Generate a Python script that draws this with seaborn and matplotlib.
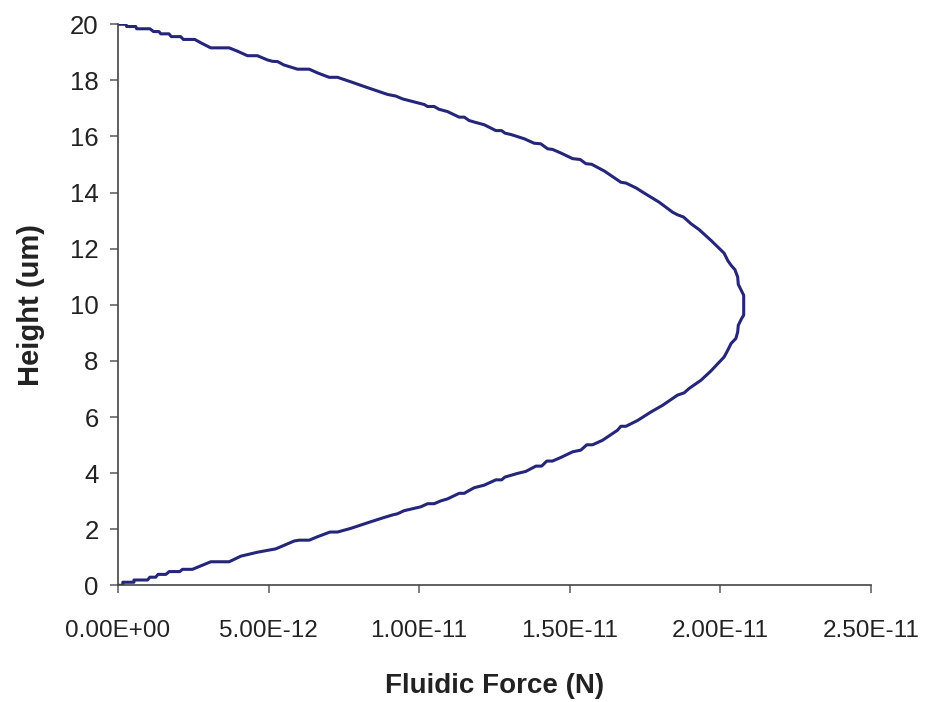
import numpy as np
import pandas as pd
import matplotlib
matplotlib.use("Agg")
import matplotlib.pyplot as plt
import seaborn as sns
from matplotlib.ticker import FuncFormatter, MultipleLocator

# Fluidic force profile across the channel height
# force in units of 1e-12 N, height in um (traced bottom -> max -> top)
force_e12 = [
    0.00, 0.16, 0.16, 0.53, 0.53, 0.98, 1.06, 1.25, 1.33, 1.59,
    1.70, 2.05, 2.14, 2.47, 3.08, 3.69, 4.08, 4.63, 5.24, 5.85,
    6.02, 6.35, 6.62, 7.04, 7.29, 7.73, 8.29, 8.84, 9.12, 9.28,
    9.50, 10.06, 10.28, 10.50, 10.72, 10.94, 11.33, 11.50, 11.61, 11.83,
    12.16, 12.55, 12.74, 12.85, 13.05, 13.27, 13.54, 13.88, 14.07, 14.24,
    14.43, 14.71, 15.10, 15.37, 15.57, 15.76, 16.09, 16.59, 16.70, 16.87,
    17.26, 17.70, 18.09, 18.42, 18.58, 18.80, 18.97, 19.36, 19.69, 20.13,
    20.25, 20.36, 20.52, 20.58, 20.60, 20.71, 20.78, 20.78, 20.71, 20.60,
    20.58, 20.49, 20.36, 20.25, 20.13, 19.69, 19.30, 19.03, 18.78, 18.58,
    18.42, 17.97, 17.48, 17.20, 16.87, 16.70, 16.15, 15.73, 15.54, 15.35,
    15.10, 14.71, 14.43, 14.27, 14.04, 13.82, 13.49, 13.05, 12.85, 12.74,
    12.55, 12.16, 11.88, 11.66, 11.50, 11.33, 10.94, 10.66, 10.50, 10.28,
    10.17, 9.95, 9.45, 9.23, 8.95, 8.29, 7.73, 7.29, 7.01, 6.62,
    6.35, 5.96, 5.51, 5.30, 5.13, 4.96, 4.63, 4.30, 3.97, 3.69,
    3.08, 2.75, 2.55, 2.17, 2.08, 1.77, 1.69, 1.42, 1.36, 1.18,
    1.06, 0.62, 0.59, 0.29, 0.26, 0.00,
]
height_um = [
    0.00, 0.00, 0.11, 0.11, 0.19, 0.19, 0.29, 0.29, 0.39, 0.39,
    0.49, 0.49, 0.57, 0.57, 0.84, 0.84, 1.04, 1.18, 1.30, 1.58,
    1.61, 1.61, 1.73, 1.90, 1.90, 2.03, 2.23, 2.42, 2.51, 2.55,
    2.66, 2.80, 2.91, 2.91, 3.01, 3.08, 3.28, 3.28, 3.35, 3.48,
    3.57, 3.76, 3.76, 3.86, 3.92, 3.99, 4.06, 4.25, 4.25, 4.43,
    4.43, 4.56, 4.76, 4.82, 5.01, 5.01, 5.17, 5.53, 5.67, 5.67,
    5.88, 6.18, 6.42, 6.66, 6.78, 6.86, 7.02, 7.31, 7.64, 8.14,
    8.38, 8.62, 8.80, 9.03, 9.27, 9.51, 9.63, 10.34, 10.49, 10.73,
    10.99, 11.25, 11.41, 11.58, 11.84, 12.30, 12.68, 12.89, 13.13, 13.21,
    13.30, 13.66, 13.98, 14.17, 14.34, 14.37, 14.77, 15.01, 15.03, 15.18,
    15.21, 15.41, 15.54, 15.56, 15.74, 15.76, 15.92, 16.07, 16.12, 16.21,
    16.21, 16.42, 16.50, 16.57, 16.69, 16.69, 16.89, 16.97, 17.07, 17.07,
    17.14, 17.20, 17.34, 17.44, 17.50, 17.74, 17.95, 18.11, 18.11, 18.27,
    18.40, 18.40, 18.55, 18.67, 18.68, 18.73, 18.88, 18.88, 19.04, 19.16,
    19.16, 19.34, 19.46, 19.46, 19.56, 19.56, 19.66, 19.66, 19.74, 19.74,
    19.84, 19.84, 19.92, 19.92, 20.00, 20.00,
]

df = pd.DataFrame({
    "Fluidic Force (N)": np.array(force_e12) * 1e-12,
    "Height (um)": height_um,
})

sns.set_style("ticks")
plt.rcParams["font.family"] = ["Liberation Sans", "DejaVu Sans"]

fig = plt.figure(figsize=(9.3, 7.02), dpi=100)
ax = fig.add_axes([0.1269, 0.1662, 0.8094, 0.7992])

sns.lineplot(
    data=df,
    x="Fluidic Force (N)",
    y="Height (um)",
    sort=False,
    estimator=None,
    color="#25257a",
    linewidth=2.2,
    ax=ax,
)

ax.set_xlim(0, 2.5e-11)
ax.set_ylim(0, 20)
ax.xaxis.set_major_locator(MultipleLocator(5e-12))
ax.yaxis.set_major_locator(MultipleLocator(2))
ax.xaxis.set_major_formatter(FuncFormatter(lambda v, p: "%.2E" % v))

sns.despine(ax=ax)
for s in ["left", "bottom"]:
    ax.spines[s].set_color("#444444")
    ax.spines[s].set_linewidth(1.2)

ax.tick_params(axis="both", direction="out", length=6, width=1.2,
               color="#666666", labelsize=18.5, labelcolor="#222222")
ax.tick_params(axis="x", labelsize=17.5, pad=19)
ax.tick_params(axis="y", pad=8)

ax.set_xlabel("Fluidic Force (N)", fontsize=20, fontweight="bold",
              color="#222222", labelpad=22)
ax.set_ylabel("Height (um)", fontsize=21, fontweight="bold",
              color="#222222", labelpad=18)

fig.savefig("out.png", dpi=100)
